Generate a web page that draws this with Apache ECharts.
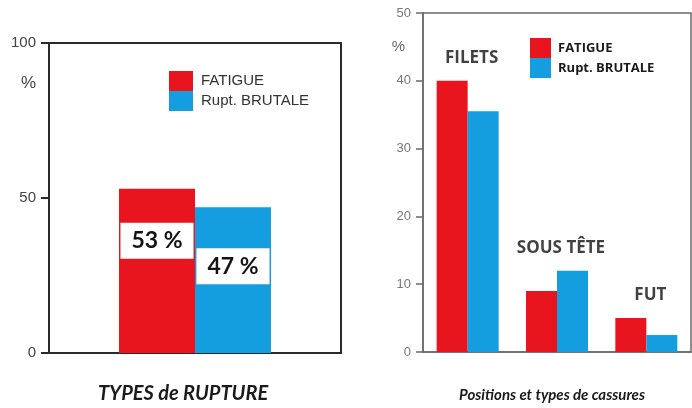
<!DOCTYPE html>
<html>
<head>
<meta charset="utf-8">
<script src="https://cdn.jsdelivr.net/npm/echarts@6/dist/echarts.min.js"></script>
<style>
  html, body { margin: 0; padding: 0; background: #fff; }
  #chart { width: 692px; height: 408px; }
</style>
</head>
<body>
<div id="chart"></div>
<script>
// Share of failures by type (left panel)
const typeCategories = ['TYPES de RUPTURE'];
const typeFatigue = [53];
const typeBrutale = [47];
const typeTicks = [0, 50, 100];

// Failure position breakdown (right panel)
const positionCategories = ['FILETS', 'SOUS TÊTE', 'FUT'];
const positionFatigue = [40, 9, 5];
const positionBrutale = [35.5, 12, 2.5];
const positionTicks = [0, 10, 20, 30, 40, 50];

const seriesNames = ['FATIGUE', 'Rupt. BRUTALE'];
const RED = '#e8141e';
const BLUE = '#149ee0';

// height used to park each position label above its taller bar
const positionPeak = positionCategories.map((c, i) => Math.max(positionFatigue[i], positionBrutale[i]));

const chart = echarts.init(document.getElementById('chart'), null, { renderer: 'canvas' });

const valueLabel = (offsetY) => ({
  show: true,
  position: 'inside',
  offset: [0, offsetY],
  formatter: '{c} %',
  backgroundColor: '#ffffff',
  padding: [7, 11, 6, 11],
  color: '#141414',
  fontFamily: 'Lato',
  fontWeight: 'bold',
  fontSize: 23,
  lineHeight: 23
});

chart.setOption({
  animation: false,
  backgroundColor: '#ffffff',
  title: [
    {
      text: 'TYPES de RUPTURE',
      left: 178, top: 379, textAlign: 'center',
      textStyle: { fontFamily: 'Lato', fontStyle: 'italic', fontWeight: 'bold', fontSize: 20, color: '#1a1a1a' }
    },
    {
      text: 'Positions et types de cassures',
      left: 547, top: 383, textAlign: 'center',
      textStyle: { fontFamily: 'Lato', fontStyle: 'italic', fontWeight: 'bold', fontSize: 15, color: '#1a1a1a' }
    }
  ],
  legend: [
    {
      data: seriesNames,
      orient: 'vertical',
      left: 164, top: 66,
      itemWidth: 24, itemHeight: 20, itemGap: 0,
      icon: 'rect',
      selectedMode: false,
      textStyle: { fontFamily: 'Liberation Sans', fontSize: 15, color: '#333', padding: [0, 0, 0, 3] }
    },
    {
      data: seriesNames,
      orient: 'vertical',
      left: 525, top: 33,
      itemWidth: 21, itemHeight: 20, itemGap: 0,
      icon: 'rect',
      selectedMode: false,
      textStyle: { fontFamily: 'Open Sans', fontWeight: 'bold', fontSize: 13, color: '#1a1a1a', padding: [0, 0, 0, 2] }
    }
  ],
  grid: [
    { left: 49, top: 43, width: 292, height: 310, show: true, borderColor: '#2a2a2a', borderWidth: 2 },
    { left: 423, top: 13, width: 268, height: 339, show: true, borderColor: '#6a6a6a', borderWidth: 1.5 }
  ],
  xAxis: [
    {
      gridIndex: 0, type: 'category', data: typeCategories,
      axisLine: { lineStyle: { color: '#2a2a2a', width: 2 } },
      axisTick: { show: false }, axisLabel: { show: false }
    },
    {
      gridIndex: 1, type: 'category', data: positionCategories,
      axisLine: { lineStyle: { color: '#6a6a6a', width: 1.5 } },
      axisTick: { show: false }, axisLabel: { show: false }
    }
  ],
  yAxis: [
    {
      gridIndex: 0, type: 'value',
      min: typeTicks[0], max: typeTicks[typeTicks.length - 1], interval: typeTicks[1] - typeTicks[0],
      name: '%', nameLocation: 'end', nameGap: -40,
      nameTextStyle: { fontFamily: 'Liberation Sans', fontSize: 17, color: '#444', align: 'right', verticalAlign: 'middle', padding: [0, 13, 0, 0] },
      axisLine: { show: true, lineStyle: { color: '#2a2a2a', width: 2 } },
      axisTick: { show: true, inside: false, length: 8, lineStyle: { color: '#2a2a2a', width: 2 } },
      axisLabel: { margin: 13, fontFamily: 'Liberation Sans', fontSize: 15, color: '#444' },
      splitLine: { show: false }
    },
    {
      gridIndex: 1, type: 'value',
      min: positionTicks[0], max: positionTicks[positionTicks.length - 1], interval: positionTicks[1] - positionTicks[0],
      name: '%', nameLocation: 'end', nameGap: -34,
      nameTextStyle: { fontFamily: 'Liberation Sans', fontSize: 15, color: '#666', align: 'right', verticalAlign: 'middle', padding: [0, 18, 0, 0] },
      axisLine: { show: true, lineStyle: { color: '#6a6a6a', width: 1.5 } },
      axisTick: { show: true, inside: false, length: 7, lineStyle: { color: '#6a6a6a', width: 1.5 } },
      axisLabel: { margin: 12, fontFamily: 'Liberation Sans', fontSize: 13, color: '#777' },
      splitLine: { show: false }
    }
  ],
  series: [
    {
      name: seriesNames[0], type: 'bar', xAxisIndex: 0, yAxisIndex: 0,
      data: typeFatigue, barWidth: 76, barGap: '0%',
      itemStyle: { color: RED },
      label: valueLabel(-30)
    },
    {
      name: seriesNames[1], type: 'bar', xAxisIndex: 0, yAxisIndex: 0,
      data: typeBrutale, barWidth: 76, barGap: '0%',
      itemStyle: { color: BLUE },
      label: valueLabel(-14)
    },
    {
      name: seriesNames[0], type: 'bar', xAxisIndex: 1, yAxisIndex: 1,
      data: positionFatigue, barWidth: 31, barGap: '0%',
      itemStyle: { color: RED }
    },
    {
      name: seriesNames[1], type: 'bar', xAxisIndex: 1, yAxisIndex: 1,
      data: positionBrutale, barWidth: 31, barGap: '0%',
      itemStyle: { color: BLUE }
    },
    {
      // position names written above each pair of bars
      name: 'positions', type: 'scatter', xAxisIndex: 1, yAxisIndex: 1,
      data: positionPeak, symbolSize: 2,
      itemStyle: { color: 'rgba(0,0,0,0)' },
      label: {
        show: true, position: 'top', distance: 13, offset: [4, 0],
        formatter: (p) => positionCategories[p.dataIndex],
        fontFamily: 'Open Sans', fontWeight: 'bold', fontSize: 17, color: '#111'
      },
      silent: true
    }
  ]
});
</script>
</body>
</html>
